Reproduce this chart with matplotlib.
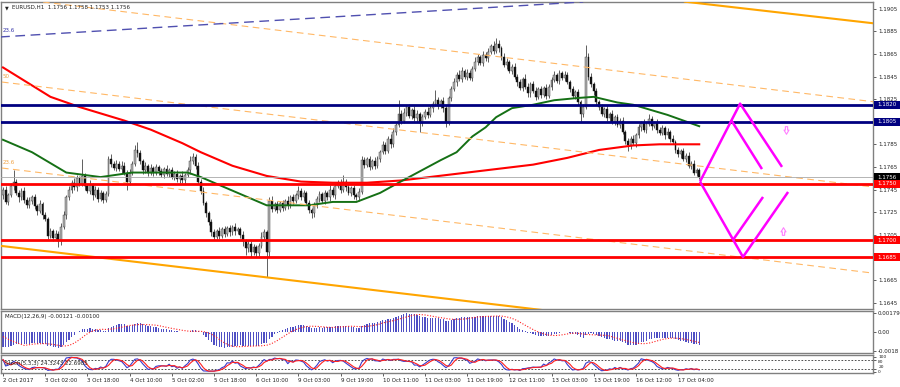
import numpy as np
import matplotlib
matplotlib.use("Agg")
import matplotlib.pyplot as plt
import matplotlib.transforms as mtransforms
from matplotlib.patches import Rectangle
from matplotlib.path import Path

plt.rcParams['font.family'] = ['DejaVu Sans']

W, H = 900, 387

# ---------------- data ----------------
first_open = 1.1740
closes = [
    1.1745, 1.1734, 1.1740, 1.1748, 1.1752, 1.1742, 1.1738, 1.1744, 1.1736, 1.1731, 1.1735,
    1.1738, 1.1730, 1.1726, 1.1732, 1.1722, 1.1719, 1.1704,
    1.1708, 1.1702, 1.1706, 1.1699, 1.1712,
    1.1722, 1.1738, 1.1745,
    1.1751, 1.1747, 1.1755, 1.1750, 1.1757, 1.1748,
    1.1744, 1.1749, 1.1740, 1.1745, 1.1737, 1.1742,
    1.1736, 1.1741,
    1.1772, 1.1768, 1.1764, 1.1768, 1.1763, 1.1766, 1.1760, 1.1752,
    1.1760, 1.1768, 1.1780, 1.1777, 1.1770, 1.1762,
    1.1766, 1.1760, 1.1764, 1.1760, 1.1765, 1.1761, 1.1758, 1.1763,
    1.1759, 1.1762, 1.1756, 1.1759, 1.1754, 1.1757, 1.1753, 1.1758, 1.1762,
    1.1770, 1.1774, 1.1766, 1.1752,
    1.1744, 1.1733, 1.1724, 1.1716, 1.1707,
    1.1703, 1.1708, 1.1704, 1.1710, 1.1706, 1.1711, 1.1707, 1.1712, 1.1708, 1.1710, 1.1705, 1.1699,
    1.1693, 1.1697, 1.1690, 1.1694, 1.1689, 1.1695,
    1.1703, 1.1707, 1.1690,
    1.1735, 1.1728,
    1.1732, 1.1727, 1.1733, 1.1729, 1.1735, 1.1731, 1.1738, 1.1735,
    1.1740, 1.1744, 1.1738, 1.1742, 1.1733, 1.1727, 1.1724, 1.1731, 1.1737,
    1.1741, 1.1735, 1.1742, 1.1738, 1.1745, 1.1740, 1.1748, 1.1751, 1.1745, 1.1752, 1.1747,
    1.1742, 1.1746, 1.1740, 1.1738, 1.1743, 1.1771,
    1.1767, 1.1772, 1.1765, 1.1770, 1.1766, 1.1772, 1.1778,
    1.1784, 1.1779, 1.1790, 1.1785, 1.1796, 1.1802, 1.1812, 1.1806,
    1.1813, 1.1818, 1.1810, 1.1815, 1.1808, 1.1812, 1.1804, 1.1809, 1.1814, 1.1811, 1.1817, 1.1821, 1.1824,
    1.1819, 1.1823, 1.1817, 1.1804, 1.1826, 1.1834, 1.1840,
    1.1846, 1.1843, 1.1850, 1.1845, 1.1848, 1.1844, 1.1852,
    1.1858, 1.1862, 1.1857, 1.1864, 1.1861,
    1.1867, 1.1872, 1.1868, 1.1874, 1.1870,
    1.1862, 1.1855, 1.1858, 1.1850, 1.1853, 1.1845, 1.1840,
    1.1835, 1.1843, 1.1836, 1.1830, 1.1838, 1.1832, 1.1827, 1.1834, 1.1829, 1.1835, 1.1828, 1.1836,
    1.1842, 1.1846, 1.1841, 1.1848, 1.1844, 1.1846, 1.1840,
    1.1834, 1.1828, 1.1831, 1.1822, 1.1812, 1.1818, 1.1862, 1.1845, 1.1838, 1.1832, 1.1822, 1.1818,
    1.1812, 1.1816, 1.1808, 1.1812, 1.1805, 1.1809, 1.1802, 1.1806,
    1.1796, 1.1788, 1.1784, 1.1790, 1.1786, 1.1793, 1.1800, 1.1804, 1.1798, 1.1803, 1.1807, 1.1801,
    1.1804, 1.1798, 1.1795, 1.1799, 1.1793, 1.1796, 1.1790, 1.1787, 1.1780, 1.1776, 1.1779,
    1.1772, 1.1775, 1.1766, 1.1768, 1.1760, 1.1762, 1.1756,
]
upper_wick_pips = [
    2, 3, 2, 3, 10, 2, 3, 2, 3, 2,   3, 2, 3, 2, 4, 2, 3, 2, 3, 2,
    3, 2, 3, 4, 2, 3, 2, 4, 3, 2,   15, 3, 2, 4, 2, 3, 2, 3, 2, 3,
    3, 4, 2, 3, 2, 4, 3, 2, 3, 2,   4, 7, 3, 2, 3, 2, 4, 2, 3, 2,
    3, 2, 4, 2, 3, 2, 3, 2, 4, 2,   3, 5, 3, 2, 3, 2, 3, 2, 2, 3,
    3, 2, 4, 2, 3, 2, 3, 2, 3, 2,   2, 3, 2, 3, 2, 3, 2, 3, 4, 3,
    2, 3, 4, 2, 3, 2, 3, 2, 4, 2,   3, 2, 4, 2, 3, 2, 3, 2, 3, 2,
    3, 2, 3, 2, 4, 2, 3, 2, 3, 6,   2, 3, 2, 3, 2, 3, 4, 3, 2, 3,
    2, 4, 3, 2, 4, 3, 2, 4, 3, 2,   12, 3, 4, 2, 3, 2, 4, 3, 2, 3,
    2, 4, 3, 2, 9, 3, 2, 4, 3, 2,   3, 4, 3, 5, 3, 2, 4, 3, 2, 4,
    3, 2, 4, 3, 3, 2, 4, 5, 3, 2,   4, 3, 2, 3, 4, 2, 3, 2, 4, 3,
    2, 3, 4, 2, 3, 2, 3, 2, 3, 4,   2, 3, 2, 4, 3, 2, 3, 2, 3, 2,
    3, 11, 4, 3, 2, 3, 2, 3, 2, 4,  2, 3, 2, 3, 2, 3, 2, 3, 2, 3,
    2, 3, 2, 3, 2, 5, 3, 2, 3, 2,   3, 2, 3, 2, 3, 2, 3, 2, 3, 2,
    3, 2, 3, 2, 2,
]
lower_wick_pips = [
    3, 2, 3, 2, 3, 2, 4, 2, 3, 2,   2, 3, 2, 4, 2, 3, 2, 3, 2, 3,
    2, 5, 3, 2, 3, 2, 3, 2, 3, 2,   2, 3, 2, 3, 4, 2, 3, 2, 3, 2,
    2, 3, 2, 3, 2, 3, 2, 7, 3, 2,   2, 3, 2, 3, 2, 3, 2, 3, 2, 3,
    2, 3, 2, 3, 2, 3, 2, 3, 2, 3,   2, 3, 2, 3, 2, 3, 2, 3, 2, 3,
    3, 2, 3, 2, 3, 2, 3, 2, 3, 2,   3, 4, 6, 3, 5, 3, 4, 3, 2, 3,
    22, 5, 3, 2, 3, 2, 3, 2, 3, 2,  3, 2, 3, 2, 3, 2, 3, 4, 3, 2,
    3, 2, 3, 2, 3, 2, 3, 2, 3, 2,   3, 2, 3, 3, 2, 3, 2, 3, 2, 3,
    2, 3, 2, 3, 2, 3, 2, 3, 2, 3,   2, 3, 2, 3, 2, 3, 2, 3, 8, 3,
    2, 3, 2, 3, 2, 3, 2, 3, 4, 2,   3, 2, 3, 2, 3, 2, 3, 2, 3, 2,
    3, 2, 3, 2, 3, 2, 3, 2, 3, 2,   2, 3, 2, 3, 2, 3, 2, 3, 2, 3,
    3, 2, 3, 2, 3, 2, 3, 2, 3, 2,   2, 3, 2, 3, 2, 3, 2, 3, 2, 7,
    3, 2, 3, 2, 3, 2, 3, 2, 3, 2,   3, 2, 3, 2, 3, 2, 3, 5, 3, 2,
    3, 2, 3, 2, 3, 2, 3, 2, 3, 2,   2, 3, 2, 3, 2, 3, 2, 3, 2, 3,
    2, 3, 2, 3, 2,
]

green_ma_bars = [0, 11, 24, 37, 49, 70, 75, 81, 94, 100, 116, 125, 134, 143, 150, 158, 166,
                 172, 178, 183, 187, 193, 201, 209, 218, 224, 233, 239, 252, 264]
green_ma_vals = [1.1789, 1.1778, 1.1760, 1.1756, 1.1760, 1.1760, 1.1756, 1.1750, 1.1737, 1.1731,
                 1.1731, 1.1734, 1.1734, 1.1742, 1.1751, 1.1761, 1.1771, 1.1778, 1.1792, 1.1800,
                 1.1809, 1.1817, 1.1820, 1.1824, 1.1826, 1.1827, 1.1822, 1.1820, 1.1811, 1.1801]
red_ma_bars = [0, 18, 29, 46, 56, 68, 75, 87, 100, 113, 125, 138, 151, 176, 201, 214, 226, 239, 249, 264]
red_ma_vals = [1.1853, 1.1827, 1.1818, 1.1806, 1.1798, 1.1786, 1.1778, 1.1766, 1.1757, 1.1752,
               1.1751, 1.1751, 1.1753, 1.1760, 1.1767, 1.1773, 1.1780, 1.1784, 1.1785, 1.1785]

blue_levels = [1.1820, 1.1805]
red_levels = [1.1750, 1.1700, 1.1685]
last_price = 1.1756

# channel lines: (bar, price) endpoints
solid_channel = [[(258.6, 1.19112), (330.0, 1.18921)], [(-0.4, 1.16950), (330.0, 1.16036)]]
dashed_channel = [[(15.2, 1.19109), (330.0, 1.18227)], [(-0.4, 1.18401), (330.0, 1.17472)],
                  [(-0.4, 1.17640), (330.0, 1.16710)]]
blue_fib_line = [(-1.1, 1.18800), (220.0, 1.19110)]
fib_labels = [("23.6", 0.0, 1.18853, '#3535a8'), ("50", 0.0, 1.18454, '#f0a040'),
              ("23.6", 0.0, 1.17685, '#f0a040')]

up_path_bars, up_path_vals = [264.3, 279.5, 295.4], [1.1752, 1.1821, 1.1765]
up_branch_bars, up_branch_vals = [276.1, 287.8], [1.18065, 1.17631]
dn_path_bars, dn_path_vals = [264.3, 280.6, 297.7], [1.1752, 1.16853, 1.17428]
dn_branch_bars, dn_branch_vals = [276.8, 288.2], [1.17003, 1.17384]
arrow_down_pos = (296.8, 1.17980)
arrow_up_pos = (295.6, 1.17080)

time_label_bars = [0, 16, 32, 48, 64, 80, 96, 112, 128, 144, 160, 176, 192, 208, 224, 240, 256]
time_labels = ["2 Oct 2017", "3 Oct 02:00", "3 Oct 18:00", "4 Oct 10:00", "5 Oct 02:00",
               "5 Oct 18:00", "6 Oct 10:00", "9 Oct 03:00", "9 Oct 19:00", "10 Oct 11:00",
               "11 Oct 03:00", "11 Oct 19:00", "12 Oct 11:00", "13 Oct 03:00", "13 Oct 19:00",
               "16 Oct 12:00", "17 Oct 04:00"]
price_ticks = [1.1645, 1.1665, 1.1685, 1.1705, 1.1725, 1.1745, 1.1765, 1.1785, 1.1805,
               1.1825, 1.1845, 1.1865, 1.1885, 1.1905]
macd_seed_fast, macd_seed_slow, macd_signal_seed = 1.1755, 1.1769, -0.0003
stoch_levels = [80, 20]
stoch_axis_labels = [("100", 97), ("80", 66), ("20", 33), ("0", 0)]

# ---------------- derived series ----------------
c = np.array(closes)
n = len(c)
o = np.empty(n)
o[0] = first_open
o[1:] = c[:-1]
hi = np.maximum(o, c) + np.array(upper_wick_pips) * 1e-4
lo = np.minimum(o, c) - np.array(lower_wick_pips) * 1e-4
idx = np.arange(n)


def ema(series, period, seed):
    a = 2.0 / (period + 1)
    out, prev = [], seed
    for v in series:
        prev = prev + a * (v - prev)
        out.append(prev)
    return np.array(out)


macd = ema(c, 12, macd_seed_fast) - ema(c, 26, macd_seed_slow)
signal = np.array([np.mean(np.r_[[macd_signal_seed] * max(0, 8 - i), macd[max(0, i - 8):i + 1]])
                   for i in range(n)])

num = np.array([c[i] - lo[max(0, i - 4):i + 1].min() for i in range(n)])
den = np.array([hi[max(0, i - 4):i + 1].max() - lo[max(0, i - 4):i + 1].min() for i in range(n)])
K = np.array([100 * num[max(0, i - 2):i + 1].sum() / den[max(0, i - 2):i + 1].sum() for i in range(n)])
D = np.array([K[max(0, i - 2):i + 1].mean() for i in range(n)])

# ---------------- figure ----------------
fig = plt.figure(figsize=(W / 100, H / 100), dpi=100)
fig.patch.set_facecolor('white')


def px_rect(x0, y0, x1, y1):
    return [x0 / W, 1 - y1 / H, (x1 - x0) / W, (y1 - y0) / H]


XL = (-0.758, 329.9)
ax = fig.add_axes(px_rect(1, 2, 873, 309))
axm = fig.add_axes(px_rect(1, 311, 873, 353))
axs = fig.add_axes(px_rect(1, 355, 873, 373))

for a in (ax, axm, axs):
    a.set_xlim(*XL)
    a.set_facecolor('white')
    for s in a.spines.values():
        s.set_color('#808080')
        s.set_linewidth(1.0)
    a.yaxis.tick_right()
    a.tick_params(axis='y', labelsize=4, length=2, width=0.5, pad=1.5, colors='#202020')
    a.tick_params(axis='x', bottom=False, labelbottom=False)

# main price axes
ax.set_ylim(1.163925, 1.191093)
ax.set_yticks(price_ticks)
ax.set_yticklabels([f"{p:.4f}" for p in price_ticks])

# candles
bull = c >= o
ax.vlines(idx, lo, hi, color='#202020', lw=0.5, zorder=2)
body_h = np.maximum(np.abs(c - o), 0.00004)
ax.bar(idx[bull], body_h[bull], bottom=np.minimum(o, c)[bull], width=0.7,
       color='#b4b4b4', edgecolor='#303030', linewidth=0.3, zorder=2.2)
ax.bar(idx[~bull], body_h[~bull], bottom=np.minimum(o, c)[~bull], width=0.7,
       color='#111111', edgecolor='#111111', linewidth=0.3, zorder=2.2)

# moving averages
ax.plot(red_ma_bars, red_ma_vals, color='#ff0000', lw=1.5, zorder=3)
ax.plot(green_ma_bars, green_ma_vals, color='#157015', lw=1.4, zorder=3)

# channels and fib lines
for (p0, p1) in solid_channel:
    ax.plot([p0[0], p1[0]], [p0[1], p1[1]], color='#ffa500', lw=1.5, zorder=3)
for (p0, p1) in dashed_channel:
    ax.plot([p0[0], p1[0]], [p0[1], p1[1]], color='#ffb866', lw=0.8, ls=(0, (6, 4)), zorder=3)
ax.plot([blue_fib_line[0][0], blue_fib_line[1][0]], [blue_fib_line[0][1], blue_fib_line[1][1]],
        color='#5050b0', lw=1.0, ls=(0, (7, 4)), zorder=3)
for txt, bx, py, col in fib_labels:
    ax.text(bx, py, txt, color=col, fontsize=4, va='center', ha='left', zorder=4)

# horizontal levels
ax.axhline(last_price, color='#a8a8a8', lw=0.6, zorder=3.5)
for lv in blue_levels:
    ax.axhline(lv, color='#000080', lw=2.0, zorder=4)
for lv in red_levels:
    ax.axhline(lv, color='#ff0000', lw=2.0, zorder=4)

# scenario zig-zags
mag = '#ff00ff'
ax.plot(up_path_bars, up_path_vals, color=mag, lw=1.8, zorder=5, solid_capstyle='butt')
ax.plot(up_branch_bars, up_branch_vals, color=mag, lw=1.8, zorder=5, solid_capstyle='butt')
ax.plot(dn_path_bars, dn_path_vals, color=mag, lw=1.8, zorder=5, solid_capstyle='butt')
ax.plot(dn_branch_bars, dn_branch_vals, color=mag, lw=1.8, zorder=5, solid_capstyle='butt')

# hollow arrow markers
down_arrow = Path([(-0.3, 1.0), (0.3, 1.0), (0.3, 0.1), (0.65, 0.1), (0.0, -1.0),
                   (-0.65, 0.1), (-0.3, 0.1), (-0.3, 1.0)], closed=True)
up_arrow = Path([(-0.3, -1.0), (0.3, -1.0), (0.3, -0.1), (0.65, -0.1), (0.0, 1.0),
                 (-0.65, -0.1), (-0.3, -0.1), (-0.3, -1.0)], closed=True)
ax.plot([arrow_down_pos[0]], [arrow_down_pos[1]], marker=down_arrow, markersize=5.5,
        mfc='white', mec='#ff80ff', mew=0.8, ls='none', zorder=5)
ax.plot([arrow_up_pos[0]], [arrow_up_pos[1]], marker=up_arrow, markersize=5.5,
        mfc='white', mec='#ff80ff', mew=0.8, ls='none', zorder=5)

# price boxes on the right axis
blend = mtransforms.blended_transform_factory(ax.transAxes, ax.transData)
box_h = 0.00072
boxes = [(1.1820, '#000080'), (1.1805, '#000080'), (last_price, '#000000'),
         (1.1750, '#ff0000'), (1.1700, '#ff0000'), (1.1685, '#ff0000')]
for lv, col in boxes:
    ax.add_patch(Rectangle((1.0015, lv - box_h / 2), 0.0298, box_h, transform=blend,
                           facecolor=col, edgecolor='none', clip_on=False, zorder=6))
    ax.text(1.0164, lv, f"{lv:.4f}", transform=blend, color='white', fontsize=4,
            ha='center', va='center', clip_on=False, zorder=7)

# header
fig.text(5 / W, 1 - 7.5 / H, '\u25bc', fontsize=3.5, color='#202020', va='center')
fig.text(12 / W, 1 - 7.5 / H, 'EURUSD,H1  1.1756 1.1758 1.1753 1.1756', fontsize=4,
         color='#202020', va='center')

# MACD panel
axm.set_ylim(-0.00195, 0.00197)
axm.bar(idx, macd, width=0.45, color='#4f4fc4', zorder=2)
axm.plot(idx, signal, color='#ff2020', lw=0.8, ls=(0, (1, 1.5)), zorder=3)
axm.set_yticks([0.00179, 0.0, -0.0018])
axm.set_yticklabels(['0.00179', '0.00', '-0.0018'])
axm.text(0.005, 0.88, 'MACD(12,26,9) -0.00121 -0.00100', transform=axm.transAxes,
         fontsize=4, color='#202020', va='center')

# Stochastic panel
axs.set_ylim(-7, 110)
for lv in stoch_levels:
    axs.axhline(lv, color='#303030', lw=0.6, ls=(0, (2, 2)), zorder=1)
axs.plot(idx, K, color='#3a3acc', lw=0.8, zorder=2)
axs.plot(idx, D, color='#ff2020', lw=0.8, zorder=3)
axs.set_yticks([100, 80, 20, 0])
axs.set_yticklabels([])
sblend = mtransforms.blended_transform_factory(axs.transAxes, axs.transData)
for txt, yv in stoch_axis_labels:
    axs.text(1.006, yv, txt, transform=sblend, fontsize=3.2, color='#202020',
             ha='left', va='center', clip_on=False)
axs.text(0.005, 0.55, 'Stoch(5,3,3) 24.3243 22.6985', transform=axs.transAxes,
         fontsize=4, color='#202020', va='center', zorder=4)

axs.tick_params(axis='x', bottom=True, labelbottom=True, labelsize=4, length=2, width=0.5,
                pad=1.5, colors='#202020')
axs.set_xticks(time_label_bars)
axs.set_xticklabels(time_labels)
for lab in axs.get_xticklabels():
    lab.set_horizontalalignment('left')

fig.savefig('out.png', dpi=100)
